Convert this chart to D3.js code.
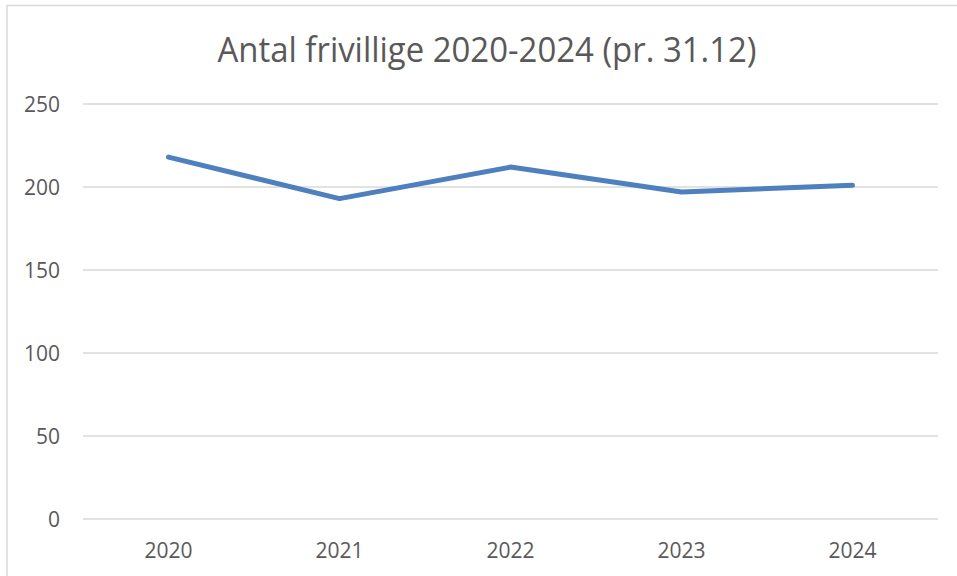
<!DOCTYPE html>
<html>
<head>
<meta charset="utf-8">
<script src="https://cdn.jsdelivr.net/npm/d3@7"></script>
<style>
  body { margin: 0; background: #fff; }
  svg { display: block; font-family: "Open Sans", sans-serif; }
</style>
</head>
<body>
<script>
const years = ["2020", "2021", "2022", "2023", "2024"];
const frivillige = [218, 193, 212, 197, 201];
const yTicks = [0, 50, 100, 150, 200, 250];
const title = "Antal frivillige 2020-2024 (pr. 31.12)";

const farver = {
  linje: "#4e7fbf",
  grid: "#d9d9d9",
  tekst: "#595959"
};

function chart() {
  const width = 957;
  const height = 576;
  const margin = {top: 104, right: 19, bottom: 57, left: 83};

  const svg = d3.select("body").append("svg")
      .attr("width", width)
      .attr("height", height);

  // chart frame (only left and top are visible in the crop)
  svg.append("rect")
      .attr("x", 7)
      .attr("y", 5.5)
      .attr("width", width + 20)
      .attr("height", height + 20)
      .attr("fill", "none")
      .attr("stroke", farver.grid)
      .attr("stroke-width", 1.5);

  svg.append("text")
      .attr("x", 487)
      .attr("y", 62)
      .attr("text-anchor", "middle")
      .attr("font-size", 34)
      .attr("fill", farver.tekst)
      .attr("textLength", 539)
      .attr("lengthAdjust", "spacingAndGlyphs")
      .text(title);

  const x = d3.scaleBand()
      .domain(years)
      .range([margin.left, width - margin.right]);

  const y = d3.scaleLinear()
      .domain([0, 250])
      .range([height - margin.bottom, margin.top]);

  // gridlines
  svg.append("g")
    .selectAll("line")
    .data(yTicks)
    .join("line")
      .attr("x1", margin.left)
      .attr("x2", width - margin.right)
      .attr("y1", d => y(d))
      .attr("y2", d => y(d))
      .attr("stroke", farver.grid)
      .attr("stroke-width", 1.5);

  // y labels
  svg.append("g")
      .attr("font-size", 21)
      .attr("fill", farver.tekst)
      .attr("text-anchor", "end")
    .selectAll("text")
    .data(yTicks)
    .join("text")
      .attr("x", 60)
      .attr("y", d => y(d))
      .attr("dy", "0.36em")
      .text(d => d);

  // x labels
  svg.append("g")
      .attr("font-size", 21)
      .attr("fill", farver.tekst)
      .attr("text-anchor", "middle")
    .selectAll("text")
    .data(years)
    .join("text")
      .attr("x", d => x(d) + x.bandwidth() / 2)
      .attr("y", 558)
      .text(d => d);

  const line = d3.line()
      .x((d, i) => x(years[i]) + x.bandwidth() / 2)
      .y(d => y(d));

  svg.append("path")
      .datum(frivillige)
      .attr("fill", "none")
      .attr("stroke", farver.linje)
      .attr("stroke-width", 5)
      .attr("stroke-linecap", "round")
      .attr("stroke-linejoin", "round")
      .attr("d", line);

  return svg.node();
}

chart();
</script>
</body>
</html>
